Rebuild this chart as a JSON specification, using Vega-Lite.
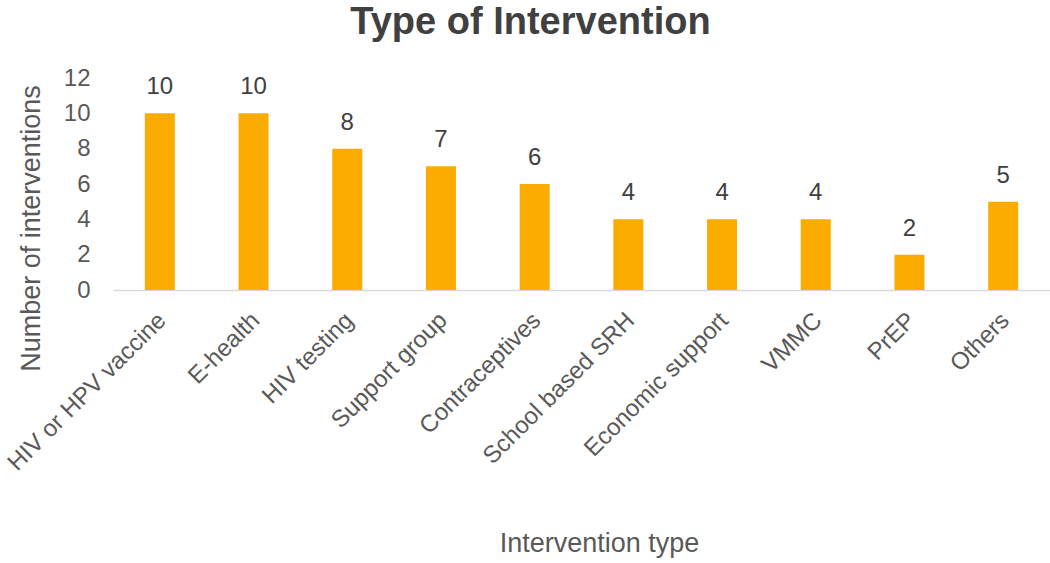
{
  "$schema": "https://vega.github.io/schema/vega-lite/v6.json",
  "autosize": {"type": "none"},
  "padding": {"left": 113, "top": 78, "right": 0, "bottom": 273},
  "width": 937,
  "height": 212,
  "background": "white",
  "title": {
    "text": "Type of Intervention",
    "font": "Liberation Sans",
    "fontSize": 38,
    "fontWeight": "bold",
    "color": "#404040",
    "anchor": "middle",
    "frame": "group",
    "dx": -51,
    "offset": 24
  },
  "config": {
    "view": {"stroke": null},
    "font": "Liberation Sans"
  },
  "data": {
    "values": [
      {"type": "HIV or HPV vaccine", "count": 10},
      {"type": "E-health", "count": 10},
      {"type": "HIV testing", "count": 8},
      {"type": "Support group", "count": 7},
      {"type": "Contraceptives", "count": 6},
      {"type": "School based SRH", "count": 4},
      {"type": "Economic support", "count": 4},
      {"type": "VMMC", "count": 4},
      {"type": "PrEP", "count": 2},
      {"type": "Others", "count": 5}
    ]
  },
  "encoding": {
    "x": {
      "field": "type",
      "type": "nominal",
      "sort": null,
      "scale": {"paddingInner": 0.68, "paddingOuter": 0.34},
      "axis": {
        "title": "Intervention type",
        "titleFont": "Liberation Sans",
        "titleFontSize": 27,
        "titleFontWeight": "normal",
        "titleColor": "#595959",
        "titleX": 486,
        "titleY": 240,
        "titleBaseline": "top",
        "labelAngle": -45,
        "labelFontSize": 24,
        "labelColor": "#595959",
        "labelPadding": 18,
        "labelOffset": -6,
        "labelLimit": 400,
        "ticks": false,
        "domainColor": "#D9D9D9",
        "domainWidth": 1.5,
        "grid": false
      }
    },
    "y": {
      "field": "count",
      "type": "quantitative",
      "scale": {"domain": [0, 12]},
      "axis": {
        "title": "Number of interventions",
        "titleFont": "Liberation Sans",
        "titleFontSize": 27,
        "titleFontWeight": "normal",
        "titleColor": "#595959",
        "titleX": -95,
        "titleY": 150,
        "titleBaseline": "top",
        "values": [0, 2, 4, 6, 8, 10, 12],
        "labelFontSize": 24,
        "labelColor": "#595959",
        "labelPadding": 23,
        "ticks": false,
        "domain": false,
        "grid": false
      }
    }
  },
  "layer": [
    {"mark": {"type": "bar", "color": "#FAAD00"}},
    {
      "mark": {"type": "text", "baseline": "alphabetic", "dy": -19, "fontSize": 24, "color": "#404040", "font": "Liberation Sans"},
      "encoding": {"text": {"field": "count", "type": "quantitative"}}
    }
  ]
}
